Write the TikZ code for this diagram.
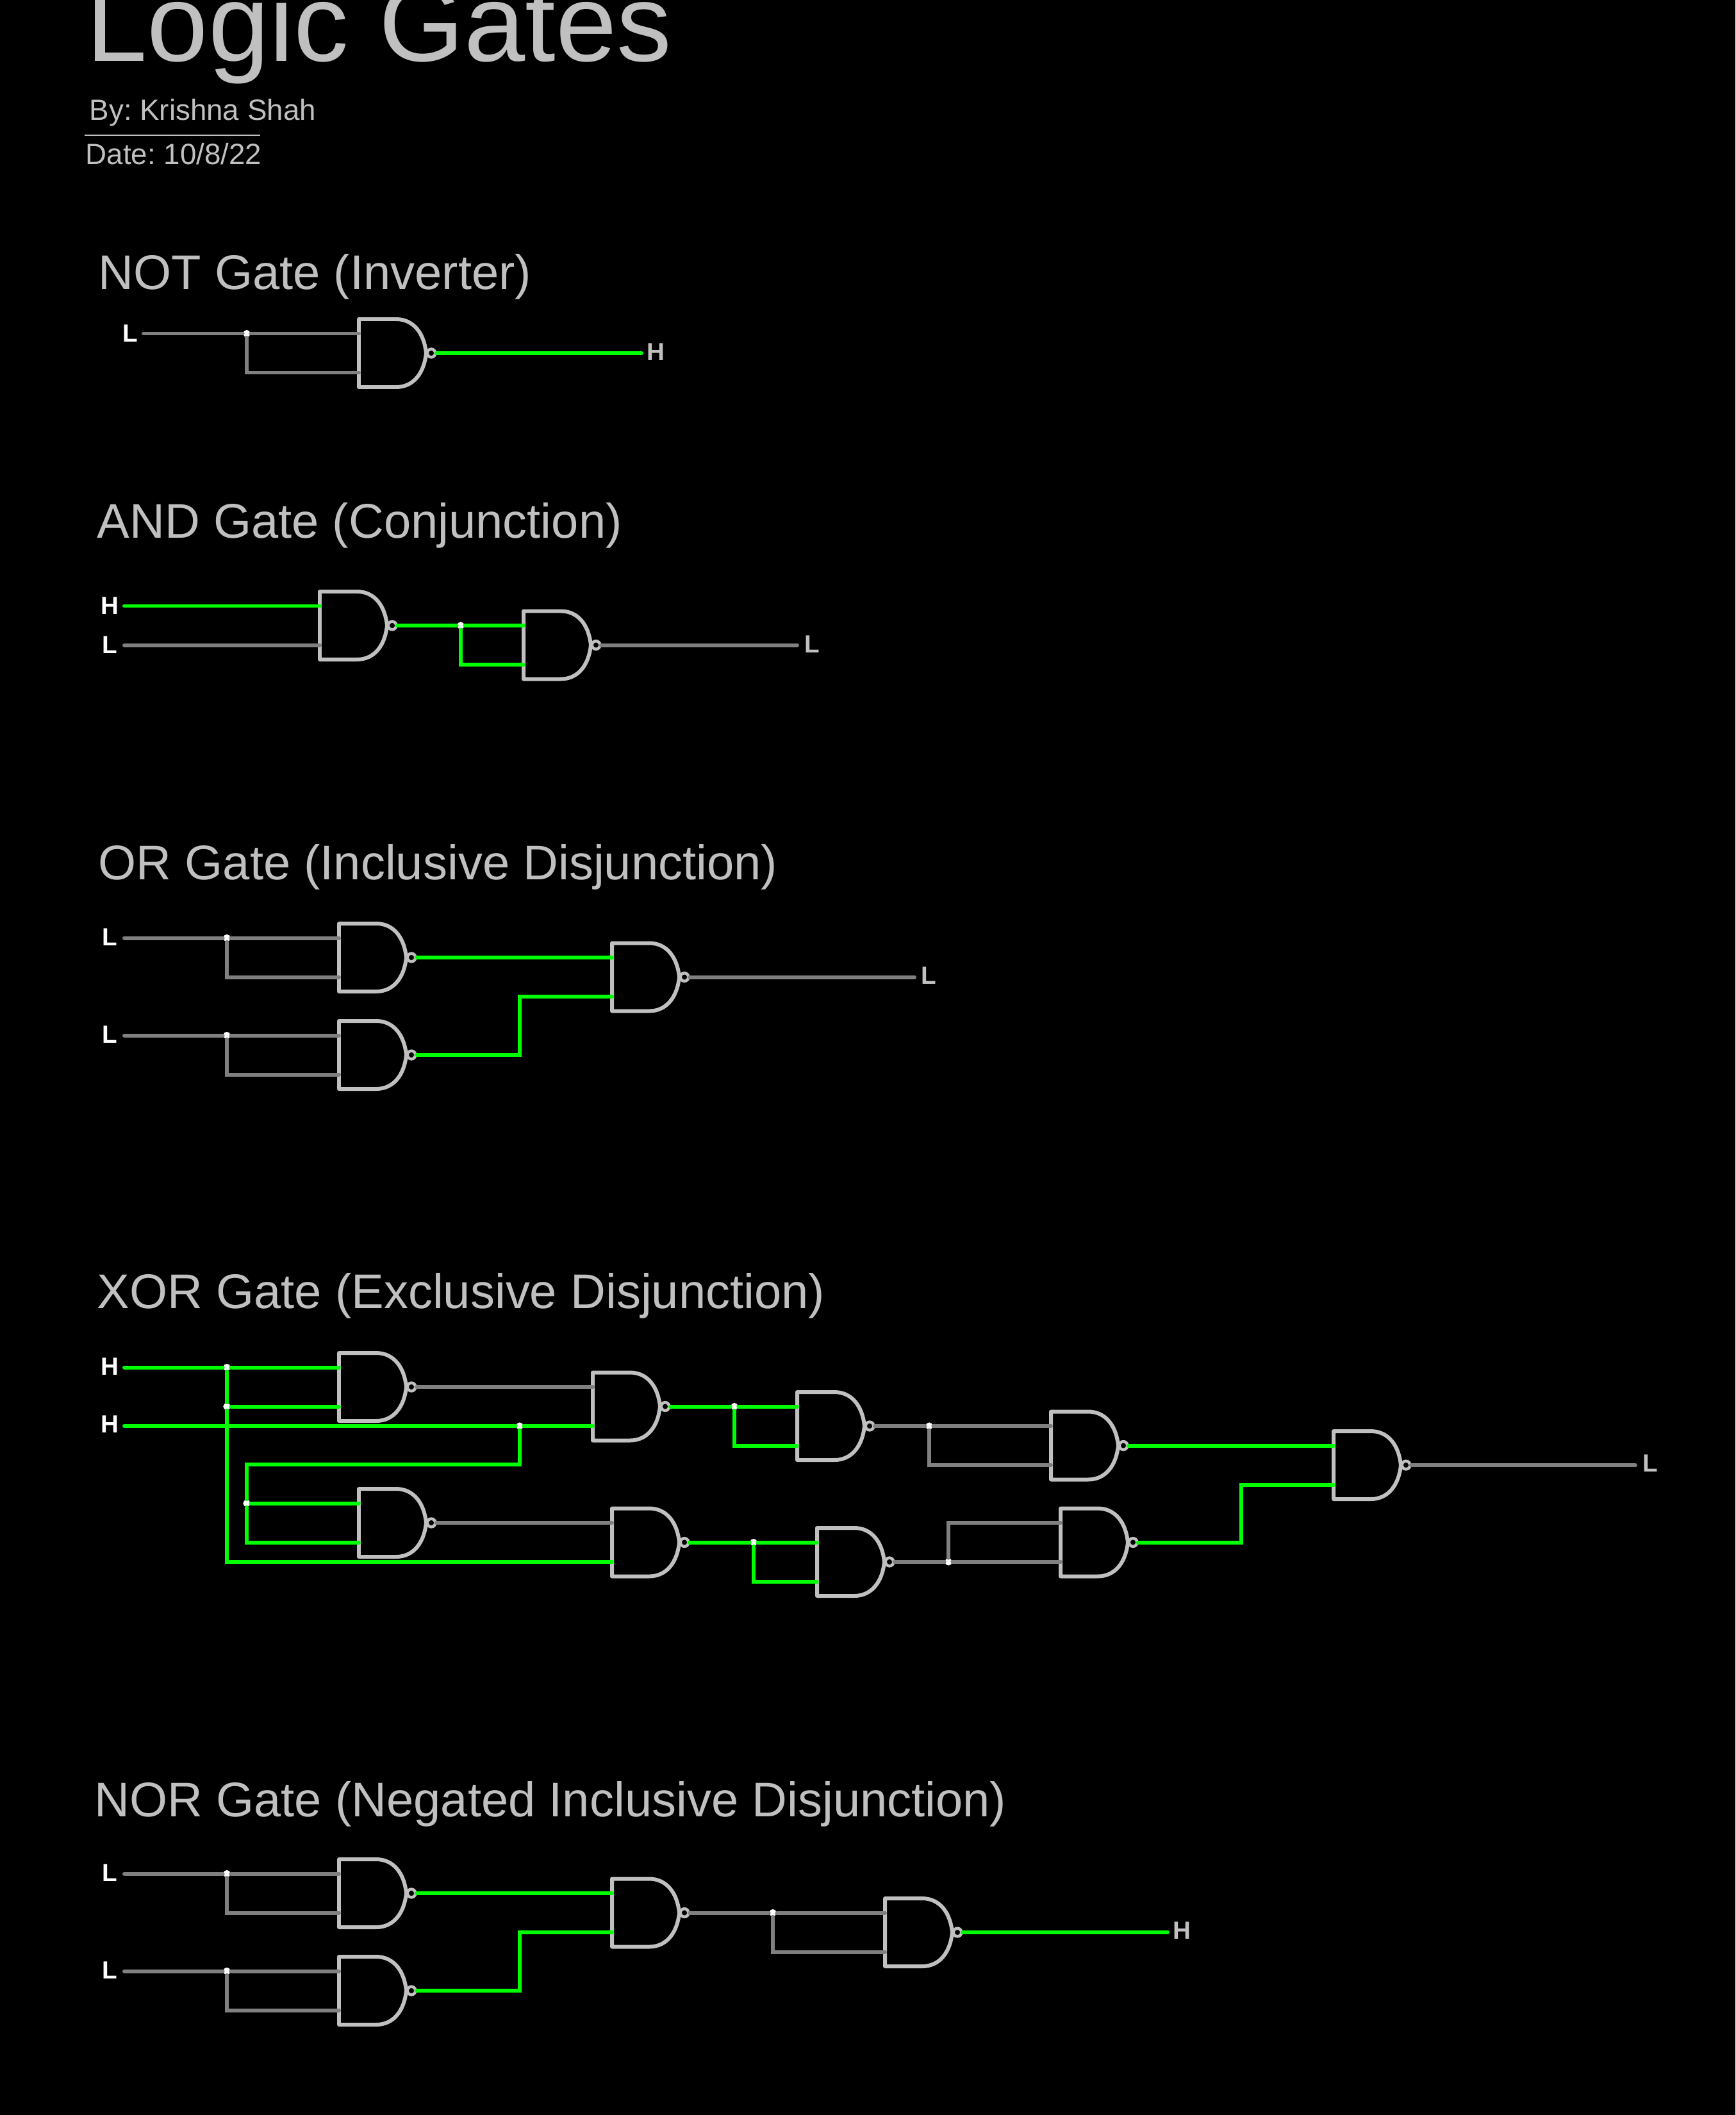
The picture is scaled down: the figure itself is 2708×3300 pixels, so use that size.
\documentclass[tikz,border=0pt]{standalone}
\usepackage{fontspec}
\setmainfont{Liberation Sans}
\usepackage{xcolor}
\usepackage{tikz}

\definecolor{gatecol}{HTML}{C0C0C0}
\definecolor{lowcol}{HTML}{808080}
\definecolor{highcol}{HTML}{00FF00}

\tikzset{
  gateline/.style={draw=gatecol, line width=1.7pt, line join=round},
  bubble/.style={circle, draw=gatecol, line width=1.3pt, fill=black, inner sep=0pt, minimum size=3.6pt},
  lowwire/.style={draw=lowcol, line width=1.7pt, line cap=round},
  highwire/.style={draw=highcol, line width=1.7pt, line cap=round},
  dot/.style={circle, fill=white, inner sep=0pt, minimum size=3.2pt},
  inlabel/.style={text=white, font=\fontsize{11}{13}\selectfont\bfseries, inner sep=0pt},
  outlabel/.style={text=gatecol, font=\fontsize{11}{13}\selectfont\bfseries, inner sep=0pt},
  headtext/.style={text=gatecol, anchor=base west, inner sep=0pt, font=\fontsize{21.6}{24}\selectfont},
  smalltext/.style={text=gatecol, anchor=base west, inner sep=0pt, font=\fontsize{13}{15}\selectfont\frenchspacing}
}

% name, left x, centre y
\newcommand{\nandgate}[3]{
  \coordinate (#1a) at (#2,#3-30.5);
  \coordinate (#1b) at (#2,#3+30.5);
  \coordinate (#1o) at (#2+121,#3);
  \draw[gateline] (#2+58,#3-53) -- (#2,#3-53) -- (#2,#3+53) -- (#2+58,#3+53)
    .. controls (#2+86,#3+53) and (#2+102,#3+30) .. (#2+105,#3)
    .. controls (#2+102,#3-30) and (#2+86,#3-53) .. (#2+58,#3-53);
  \node[bubble] (#1n) at (#2+113,#3) {};
}

\begin{document}
\begin{tikzpicture}[x=0.01cm,y=-0.01cm]

    % Page
    \fill[black] (0,0) rectangle (2708,3300);
    \useasboundingbox (0,0) rectangle (2708,3300);

    % Heading
    \node[text=gatecol, anchor=base west, inner sep=0pt, font=\fontsize{48.7}{50}\selectfont] (maintitle) at (134,96) {Logic Gates};
    \node[smalltext] (author) at (139,188) {By: Krishna Shah};
    \node[smalltext] (datetext) at (133,256) {Date: 10/8/22};
    \coordinate (rulea) at (132,211);
    \coordinate (ruleb) at (406,211);
    \draw[draw=gatecol, line width=0.6pt] (rulea) -- (ruleb);

    % NOT gate
    \node[headtext] (nothead) at (153,451) {NOT Gate (Inverter)};
    \nandgate{n1}{560}{551}
    \node[inlabel] (n1l) at (203,520) {L};
    \node[outlabel] (n1r) at (1023,549) {H};
    \coordinate (n1in) at (224,520.5);
    \coordinate (n1out) at (1001,551);
    \node[dot] (n1j) at (385,0 |- n1a) {};
    \draw[lowwire] (n1in) -- (n1j) -- (n1a);
    \draw[lowwire] (n1j) |- (n1b);
    \draw[highwire] (n1o) -- (n1out);

    % AND gate
    \node[headtext] (andhead) at (151,839) {AND Gate (Conjunction)};
    \nandgate{a1}{499}{976}
    \nandgate{a2}{817}{1006.5}
    \node[inlabel] (a1l) at (171,945) {H};
    \node[inlabel] (a2l) at (171,1006) {L};
    \node[outlabel] (a2r) at (1267,1005) {L};
    \coordinate (a1in) at (194,945.5);
    \coordinate (a2in) at (194,1006.5);
    \coordinate (a2out) at (1244,1006.5);
    \node[dot] (a1j) at (719,0 |- a2a) {};
    \draw[highwire] (a1in) -- (a1a);
    \draw[lowwire] (a2in) -- (a1b);
    \draw[highwire] (a1o) -- (a1j) -- (a2a);
    \draw[highwire] (a1j) |- (a2b);
    \draw[lowwire] (a2o) -- (a2out);

    % OR gate
    \node[headtext] (orhead) at (153,1372) {OR Gate (Inclusive Disjunction)};
    \nandgate{o1}{529}{1494}
    \nandgate{o2}{529}{1646}
    \nandgate{o3}{955}{1524.5}
    \node[inlabel] (o1l) at (171,1462) {L};
    \node[inlabel] (o2l) at (171,1614) {L};
    \node[outlabel] (o3r) at (1449,1522) {L};
    \coordinate (o1in) at (194,1463.5);
    \coordinate (o2in) at (194,1615.5);
    \coordinate (o3out) at (1427,1524.5);
    \coordinate (o2bend) at (811,1646);
    \node[dot] (o1j) at (354,0 |- o1a) {};
    \node[dot] (o2j) at (354,0 |- o2a) {};
    \draw[lowwire] (o1in) -- (o1j) -- (o1a);
    \draw[lowwire] (o1j) |- (o1b);
    \draw[lowwire] (o2in) -- (o2j) -- (o2a);
    \draw[lowwire] (o2j) |- (o2b);
    \draw[highwire] (o1o) -- (o3a);
    \draw[highwire] (o2o) -- (o2bend) |- (o3b);
    \draw[lowwire] (o3o) -- (o3out);

    % XOR gate
    \node[headtext] (xorhead) at (151,2041) {XOR Gate (Exclusive Disjunction)};
    \nandgate{x1}{529}{2164}
    \nandgate{x2}{925}{2194.5}
    \nandgate{x3}{1244}{2225}
    \nandgate{x4}{1640}{2255.5}
    \nandgate{x5}{2081}{2286}
    \nandgate{x6}{560}{2376}
    \nandgate{x7}{955}{2406.5}
    \nandgate{x8}{1275}{2437}
    \nandgate{x9}{1655}{2406.5}
    \node[inlabel] (x1l) at (171,2132) {H};
    \node[inlabel] (x2l) at (171,2222) {H};
    \node[outlabel] (x5r) at (2575,2283) {L};
    \coordinate (x1in) at (194,2133.5);
    \coordinate (x2in) at (194,2225);
    \coordinate (x5out) at (2552,2286);
    \coordinate (x9bend) at (1937,2406.5);
    \coordinate (x2bend) at (811,2285);
    \coordinate (x6bend) at (385,2285);
    \node[dot] (x1j) at (354,0 |- x1a) {};
    \node[dot] (x1k) at (354,0 |- x1b) {};
    \node[dot] (x2j) at (811,0 |- x2b) {};
    \node[dot] (x6j) at (385,0 |- x6a) {};
    \node[dot] (x2m) at (1146,0 |- x3a) {};
    \node[dot] (x3m) at (1450,0 |- x4a) {};
    \node[dot] (x7m) at (1176,0 |- x8a) {};
    \node[dot] (x8m) at (1480,0 |- x9b) {};
    \draw[highwire] (x1in) -- (x1j) -- (x1a);
    \draw[highwire] (x1j) -- (x1k);
    \draw[highwire] (x1k) -- (x1b);
    \draw[highwire] (x1k) |- (x7b);
    \draw[highwire] (x2in) -- (x2j) -- (x2b);
    \draw[highwire] (x2j) -- (x2bend) -- (x6bend) -- (x6j);
    \draw[highwire] (x6j) -- (x6a);
    \draw[highwire] (x6j) |- (x6b);
    \draw[lowwire] (x1o) -- (x2a);
    \draw[highwire] (x2o) -- (x2m) -- (x3a);
    \draw[highwire] (x2m) |- (x3b);
    \draw[lowwire] (x3o) -- (x3m) -- (x4a);
    \draw[lowwire] (x3m) |- (x4b);
    \draw[highwire] (x4o) -- (x5a);
    \draw[lowwire] (x6o) -- (x7a);
    \draw[highwire] (x7o) -- (x7m) -- (x8a);
    \draw[highwire] (x7m) |- (x8b);
    \draw[lowwire] (x8o) -- (x8m) -- (x9b);
    \draw[lowwire] (x8m) |- (x9a);
    \draw[highwire] (x9o) -- (x9bend) |- (x5b);
    \draw[lowwire] (x5o) -- (x5out);

    % NOR gate
    \node[headtext] (norhead) at (147,2834) {NOR Gate (Negated Inclusive Disjunction)};
    \nandgate{r1}{529}{2954}
    \nandgate{r2}{529}{3106}
    \nandgate{r3}{955}{2984.5}
    \nandgate{r4}{1381}{3015}
    \node[inlabel] (r1l) at (171,2922) {L};
    \node[inlabel] (r2l) at (171,3074) {L};
    \node[outlabel] (r4r) at (1844,3012) {H};
    \coordinate (r1in) at (194,2923.5);
    \coordinate (r2in) at (194,3075.5);
    \coordinate (r4out) at (1822,3015);
    \coordinate (r2bend) at (811,3106);
    \node[dot] (r1j) at (354,0 |- r1a) {};
    \node[dot] (r2j) at (354,0 |- r2a) {};
    \node[dot] (r3j) at (1206,0 |- r4a) {};
    \draw[lowwire] (r1in) -- (r1j) -- (r1a);
    \draw[lowwire] (r1j) |- (r1b);
    \draw[lowwire] (r2in) -- (r2j) -- (r2a);
    \draw[lowwire] (r2j) |- (r2b);
    \draw[highwire] (r1o) -- (r3a);
    \draw[highwire] (r2o) -- (r2bend) |- (r3b);
    \draw[lowwire] (r3o) -- (r3j) -- (r4a);
    \draw[lowwire] (r3j) |- (r4b);
    \draw[highwire] (r4o) -- (r4out);
\end{tikzpicture}
\end{document}
